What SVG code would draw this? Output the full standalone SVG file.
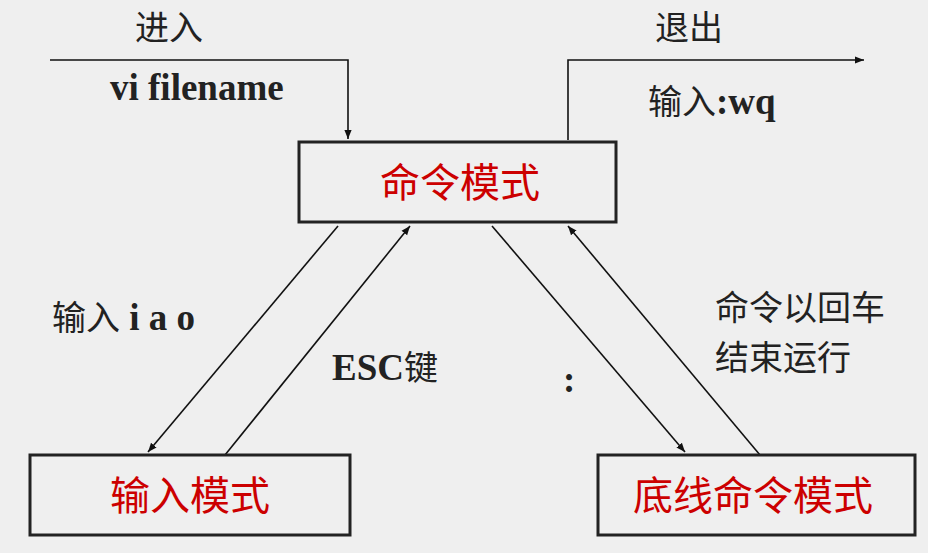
<svg xmlns="http://www.w3.org/2000/svg" width="928" height="553" viewBox="0 0 928 553">
<style>
.box{fill:#efefef;stroke:#222;stroke-width:3}
.bt{font-family:"Noto Sans CJK SC",sans-serif;font-size:40px;fill:#cc0000;text-anchor:middle}
.lb{font-family:"Liberation Serif","Noto Sans CJK SC",serif;font-size:37px;font-weight:bold;fill:#222}
.cn{font-family:"Noto Sans CJK SC",sans-serif;font-size:34px;font-weight:normal;fill:#222}
.ln{fill:none;stroke:#111;stroke-width:1.6}
</style>
<defs><marker id="a" viewBox="0 0 10 10" refX="10" refY="5" markerWidth="9" markerHeight="9" orient="auto" markerUnits="userSpaceOnUse"><path d="M0,1 L10,5 L0,9 z" fill="#111"/></marker></defs>
<rect width="928" height="553" fill="#efefef"/>
<g id="connectors">
<polyline class="ln" points="50,60 348,60 348,139" marker-end="url(#a)"/>
<polyline class="ln" points="568,140 568,60 864,60" marker-end="url(#a)"/>
<line class="ln" x1="338" y1="226" x2="148" y2="452" marker-end="url(#a)"/>
<line class="ln" x1="225" y1="455" x2="410" y2="226" marker-end="url(#a)"/>
<line class="ln" x1="492" y1="226" x2="685" y2="452" marker-end="url(#a)"/>
<line class="ln" x1="760" y1="455" x2="568" y2="226" marker-end="url(#a)"/>
</g>
<g id="cmd"><rect class="box" x="299" y="142" width="317" height="80"/><text class="bt" x="460" y="197">命令模式</text></g>
<g id="insert"><rect class="box" x="30" y="455" width="320" height="80"/><text class="bt" x="190" y="510">输入模式</text></g>
<g id="lastline"><rect class="box" x="598" y="455" width="317" height="80"/><text class="bt" x="753" y="510">底线命令模式</text></g>
<g id="labels">
<text class="cn" x="135" y="40">进入</text>
<text class="lb" x="110" y="100">vi filename</text>
<text class="cn" x="655" y="40">退出</text>
<text class="lb" x="648" y="114"><tspan class="cn">输入</tspan>:wq</text>
<text class="lb" x="52" y="330"><tspan class="cn">输入</tspan> i a o</text>
<text class="lb" x="332" y="380">ESC<tspan class="cn">键</tspan></text>
<text class="lb" x="563" y="392">:</text>
<text class="cn" x="715" y="320">命令以回车</text>
<text class="cn" x="715" y="370">结束运行</text>
</g>
</svg>
